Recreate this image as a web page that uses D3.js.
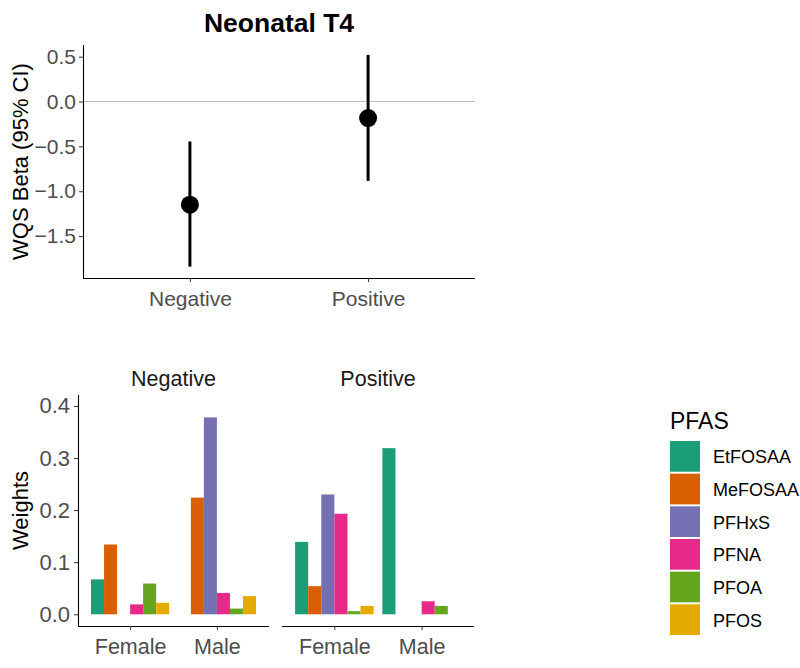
<!DOCTYPE html>
<html>
<head>
<meta charset="utf-8">
<script src="https://cdn.jsdelivr.net/npm/d3@7"></script>
<style>
  body { margin: 0; background: #fff; }
  text { font-family: "Liberation Sans", Arial, sans-serif; }
</style>
</head>
<body>
<script>
// top panel: WQS beta with 95% CI
const groups = ["Negative", "Positive"];
const beta = [-1.15, -0.185];
const lower = [-1.84, -0.885];
const upper = [-0.445, 0.52];
const betaTicks = [0.5, 0.0, -0.5, -1.0, -1.5];

// bottom panels: weights by sex
const pfas = ["EtFOSAA", "MeFOSAA", "PFHxS", "PFNA", "PFOA", "PFOS"];
const pfasColors = ["#1B9E77", "#D95F02", "#7570B3", "#E7298A", "#66A61E", "#E6AB02"];
const sexes = ["Female", "Male"];
const negFemale = [0.067, 0.134, 0, 0.019, 0.059, 0.022];
const negMale = [0, 0.224, 0.378, 0.041, 0.011, 0.035];
const posFemale = [0.139, 0.054, 0.230, 0.193, 0.006, 0.016];
const posMale = [0.319, 0, 0, 0.025, 0.016, 0];
const weightTicks = [0.0, 0.1, 0.2, 0.3, 0.4];

const svg = d3.select("body").append("svg")
    .attr("width", 800)
    .attr("height", 668);

const tickColor = "#4d4d4d";
const fontFam = "Liberation Sans, Arial, sans-serif";

// ---------- top chart ----------
let topBox = {left: 83, right: 475, top: 45, bottom: 278};

let xTop = d3.scalePoint().domain(groups)
    .range([topBox.left, topBox.right]).padding(0.6);
let yTop = d3.scaleLinear().domain([-1.967, 0.63])
    .range([topBox.bottom, topBox.top]);

svg.append("text")
    .attr("x", (topBox.left + topBox.right) / 2)
    .attr("y", 32)
    .attr("text-anchor", "middle")
    .attr("font-size", 26.5)
    .attr("font-weight", "bold")
    .attr("fill", "#000")
    .text("Neonatal T4");

// zero reference line
svg.append("line")
    .attr("x1", topBox.left).attr("x2", topBox.right)
    .attr("y1", yTop(0)).attr("y2", yTop(0))
    .attr("stroke", "#bebebe").attr("stroke-width", 1);

let gyTop = svg.append("g")
    .attr("transform", "translate(" + topBox.left + ",0)")
    .call(d3.axisLeft(yTop).tickValues(betaTicks).tickFormat(d3.format(".1f")).tickSizeOuter(0).tickSize(4).tickPadding(3));
let gxTop = svg.append("g")
    .attr("transform", "translate(0," + topBox.bottom + ")")
    .call(d3.axisBottom(xTop).tickSizeOuter(0).tickSize(4).tickPadding(9));

[gyTop, gxTop].forEach(function(g){
  g.select(".domain").attr("stroke", "#000").attr("stroke-width", 1.1);
  g.selectAll(".tick line").attr("stroke", "#333");
  g.selectAll(".tick text").attr("fill", tickColor).attr("font-size", 21)
    .attr("font-family", fontFam);
});
gyTop.select(".domain").attr("d", "M0.5," + topBox.top + "V" + topBox.bottom);
gxTop.select(".domain").attr("d", "M" + topBox.left + ",0.5H" + topBox.right);

svg.append("text")
    .attr("transform", "translate(28," + ((topBox.top + topBox.bottom) / 2) + ") rotate(-90)")
    .attr("text-anchor", "middle")
    .attr("font-size", 22)
    .attr("fill", "#000")
    .text("WQS Beta (95% CI)");

let est = svg.selectAll(".est").data(groups).enter().append("g").attr("class", "est");
est.append("line")
    .attr("x1", d => xTop(d)).attr("x2", d => xTop(d))
    .attr("y1", (d, i) => yTop(lower[i])).attr("y2", (d, i) => yTop(upper[i]))
    .attr("stroke", "#000").attr("stroke-width", 3);
est.append("circle")
    .attr("cx", d => xTop(d))
    .attr("cy", (d, i) => yTop(beta[i]))
    .attr("r", 9)
    .attr("fill", "#000");

// ---------- bottom facets ----------
let bot = {top: 395, bottom: 626};
let panels = [
  {name: "Negative", left: 78, right: 269, values: [negFemale, negMale], yaxis: true},
  {name: "Positive", left: 282, right: 474, values: [posFemale, posMale], yaxis: false}
];

let yW = d3.scaleLinear().domain([-0.0225, 0.421]).range([bot.bottom, bot.top]);

panels.forEach(function(p){
  // discrete placement like ggplot: centres at 0.6 and 1.6 units of 2.2
  let center = d3.scalePoint().domain(sexes).range([p.left, p.right]).padding(0.6);
  let unit = center.step();
  let x1 = d3.scaleBand().domain(pfas).range([-0.45 * unit, 0.45 * unit]);

  let rows = [];
  sexes.forEach(function(s, si){
    pfas.forEach(function(k, ki){
      rows.push({sex: s, pfas: k, color: pfasColors[ki], value: p.values[si][ki]});
    });
  });

  svg.append("g").selectAll("rect").data(rows.filter(r => r.value > 0)).enter()
    .append("rect")
      .attr("x", r => center(r.sex) + x1(r.pfas))
      .attr("width", x1.bandwidth())
      .attr("y", r => yW(r.value))
      .attr("height", r => yW(0) - yW(r.value))
      .attr("fill", r => r.color);

  let gx = svg.append("g")
      .attr("transform", "translate(0," + bot.bottom + ")")
      .call(d3.axisBottom(center).tickSizeOuter(0).tickSize(4).tickPadding(9));
  gx.select(".domain").attr("d", "M" + p.left + ",0.5H" + p.right).attr("stroke", "#000").attr("stroke-width", 1.1);
  gx.selectAll(".tick line").attr("stroke", "#333");
  gx.selectAll(".tick text").attr("fill", tickColor).attr("font-size", 21.5)
    .attr("font-family", fontFam);

  if(p.yaxis){
    let gy = svg.append("g")
        .attr("transform", "translate(" + p.left + ",0)")
        .call(d3.axisLeft(yW).tickValues(weightTicks).tickFormat(d3.format(".1f")).tickSizeOuter(0).tickSize(4).tickPadding(4));
    gy.select(".domain").attr("d", "M0.5," + bot.top + "V" + bot.bottom).attr("stroke", "#000").attr("stroke-width", 1.1);
    gy.selectAll(".tick line").attr("stroke", "#333");
    gy.selectAll(".tick text").attr("fill", tickColor).attr("font-size", 22)
      .attr("font-family", fontFam);
  }

  svg.append("text")
      .attr("x", (p.left + p.right) / 2)
      .attr("y", 386)
      .attr("text-anchor", "middle")
      .attr("font-size", 21.5)
      .attr("fill", "#1a1a1a")
      .text(p.name);
});

svg.append("text")
    .attr("transform", "translate(28," + ((bot.top + bot.bottom) / 2) + ") rotate(-90)")
    .attr("text-anchor", "middle")
    .attr("font-size", 22)
    .attr("fill", "#000")
    .text("Weights");

// ---------- legend ----------
let legend = svg.append("g").attr("transform", "translate(670,0)");
legend.append("text")
    .attr("x", 0).attr("y", 429)
    .attr("font-size", 23)
    .attr("fill", "#000")
    .text("PFAS");

let keyY = d3.scaleBand().domain(pfas).range([441, 635]).paddingInner(0.06);
let keys = legend.selectAll(".key").data(pfas).enter().append("g").attr("class", "key");
keys.append("rect")
    .attr("x", 0)
    .attr("y", d => keyY(d))
    .attr("width", 30)
    .attr("height", keyY.bandwidth())
    .attr("fill", (d, i) => pfasColors[i]);
keys.append("text")
    .attr("x", 43)
    .attr("y", d => keyY(d) + keyY.bandwidth() / 2 + 1)
    .attr("dominant-baseline", "central")
    .attr("font-size", 18)
    .attr("fill", "#000")
    .text(d => d);
</script>
</body>
</html>
